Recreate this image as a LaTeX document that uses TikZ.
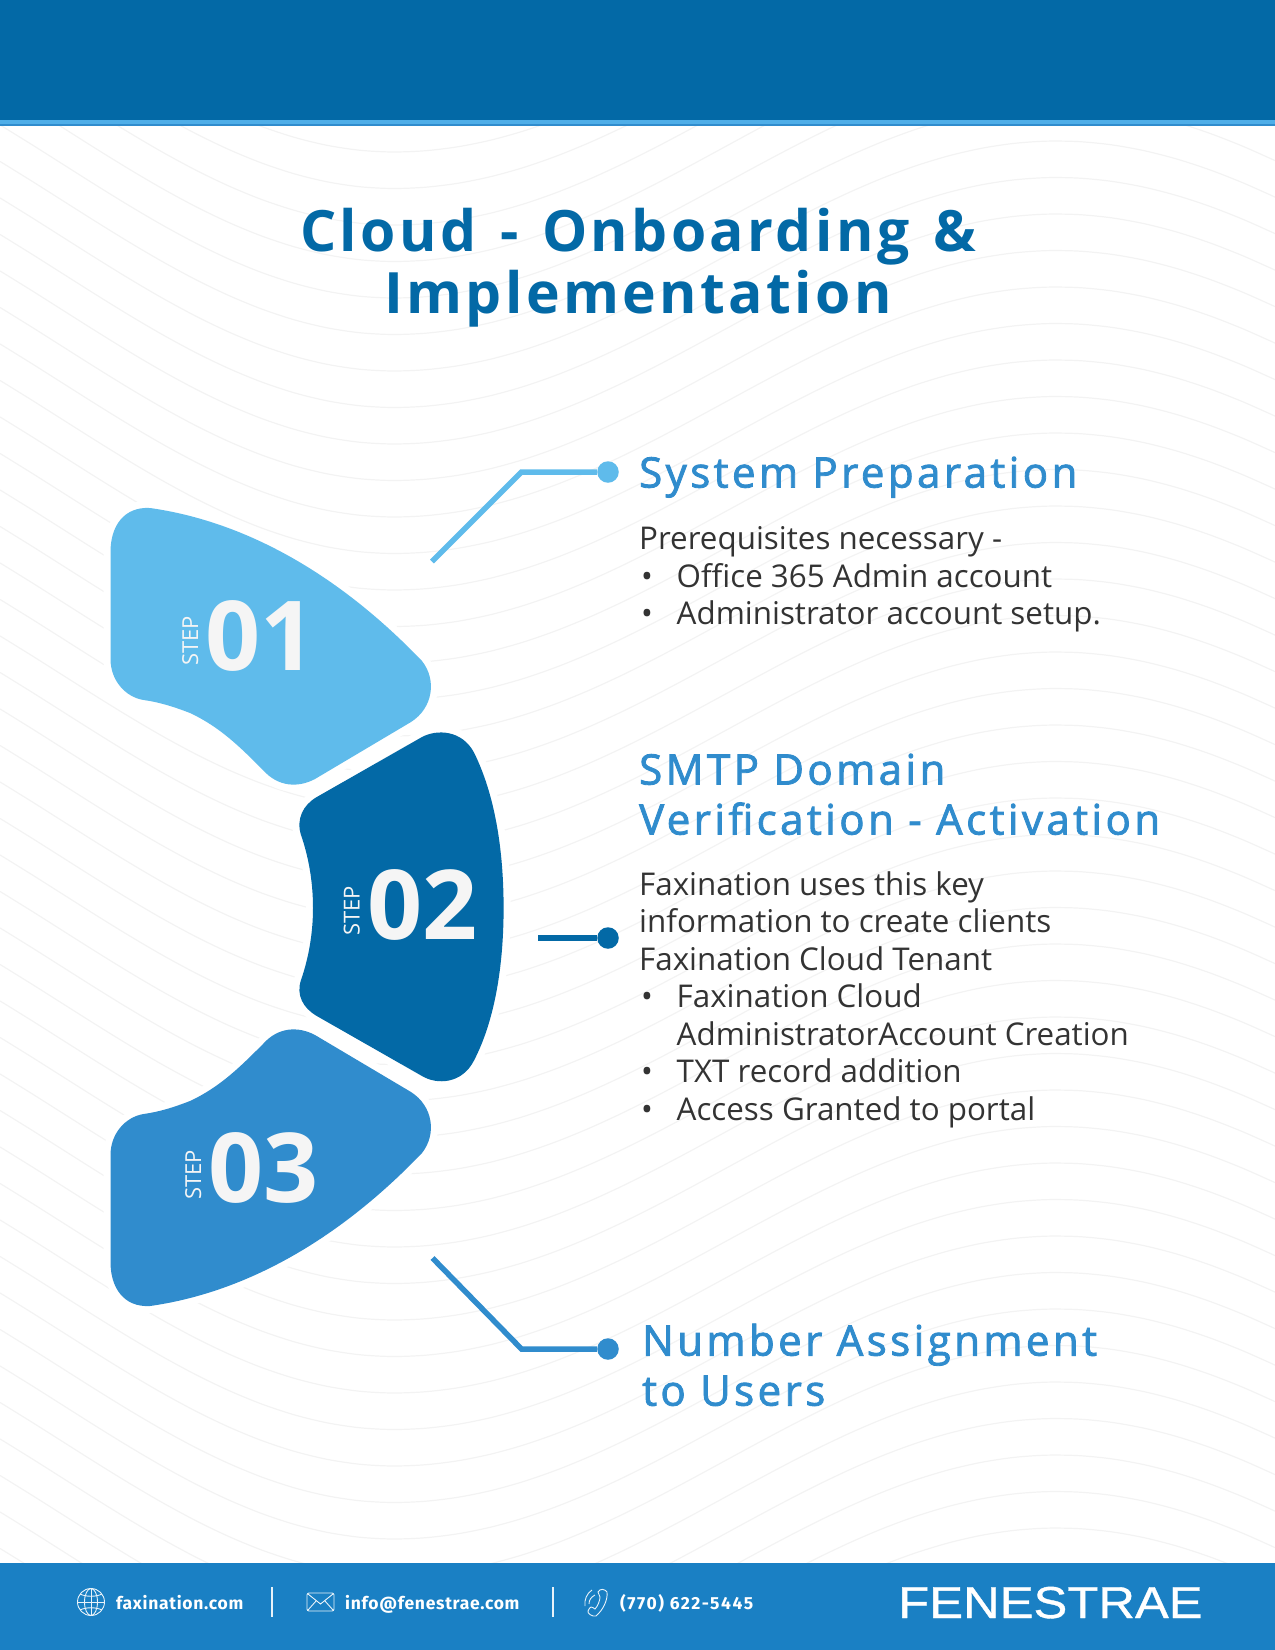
\documentclass[tikz,border=0pt]{standalone}
\usepackage{fontspec}
\setmainfont{Open Sans}
\newfontfamily\titlefont[LetterSpace=6,WordSpace=1.3]{Open Sans}
\newfontfamily\headfont[LetterSpace=8.2,FakeBold=2]{Open Sans}
\newfontfamily\footfont[LetterSpace=4]{Fira Sans}
\newfontfamily\logofont[FakeStretch=1.135,FakeBold=0.8]{Liberation Sans}

\definecolor{bardark}{HTML}{0369A6}
\definecolor{barlight}{HTML}{4FAEE8}
\definecolor{stepone}{HTML}{5FBBEB}
\definecolor{stepthree}{HTML}{308CCD}
\definecolor{footblue}{HTML}{1A80C4}
\definecolor{wavegray}{HTML}{F3F3F3}
\definecolor{bodygray}{HTML}{333333}
\definecolor{numwhite}{HTML}{F5F5F5}

\tikzset{
	leaf/.style={fill=#1,preaction={draw=white,line width=14pt}},
	bignum/.style={anchor=base west,inner sep=0pt,text=numwhite,font=\bfseries\fontsize{96.5}{96.5}\selectfont},
	steptag/.style={anchor=base,rotate=90,inner sep=0pt,text=numwhite,font=\fontsize{22}{22}\selectfont},
	wire/.style={line width=5.5pt,draw=#1},
	wiredot/.style={circle,fill=#1,inner sep=0pt,minimum size=21.5pt},
	bigtitle/.style={anchor=base,inner sep=0pt,text=bardark,font=\titlefont\bfseries\fontsize{57}{61}\selectfont},
	headline/.style={anchor=north west,inner sep=0pt,align=left,text=stepthree,font=\headfont\fontsize{42}{50}\selectfont},
	bodytext/.style={anchor=north west,inner sep=0pt,align=left,text=bodygray,font=\fontsize{31.35}{37.5}\selectfont},
	foottext/.style={anchor=base west,inner sep=0pt,text=white,font=\footfont\bfseries\fontsize{17.5}{17.5}\selectfont},
	footsep/.style={line width=2pt,draw=white!90!footblue},
	footicon/.style={line width=0.9pt,draw=white!90!footblue}
}
\newcommand{\bulletline}[1]{\makebox[37.5pt][l]{\hspace{2pt}•}#1}

\begin{document}
\begin{tikzpicture}[x=1pt,y=-1pt]
	\useasboundingbox (0,0) rectangle (1275,1650);
	% wave lines behind everything
	\begin{scope}
		\clip (0,125) rectangle (1275,1563);
		\foreach \k in {0,...,46} {
			\draw[wavegray,line width=1.2pt] plot[smooth,samples=40,domain=0:1275,variable=\x]
				(\x,{152+\k*36.5-(\x<394?134:115)*(1-cos(0.27149*(\x-394)))});
		}
	\end{scope}
	% top bar
	\fill[bardark] (0,0) rectangle (1275,120);
	\fill[barlight] (0,120) rectangle (1275,123.5);
	\fill[stepthree] (0,123.5) rectangle (1275,126);
	% footer bar
	\fill[footblue] (0,1563) rectangle (1275,1650);
	% title
	\node[bigtitle] (titleone) at (638,251) {Cloud - Onboarding \&};
	\node[bigtitle] (titletwo) at (638,313) {Implementation};
	% step 01
	\path[leaf=stepone] (110.5,552) .. controls (110.5,526) and (124,506.5) .. (150,508)
		.. controls (235,520) and (330,565) .. (422,661)
		.. controls (437,680) and (433,708) .. (411,722) -- (315,779)
		.. controls (298,788) and (278,787) .. (263,770)
		.. controls (240,747) and (220,727) .. (190,713)
		.. controls (172,706) and (158,702) .. (143.6,700)
		.. controls (125,697) and (110.5,680) .. (110.5,659) -- cycle;
	% step 02
	\path[leaf=bardark] (422,737) .. controls (437,729) and (462,730) .. (474,752.5)
		.. controls (495,795) and (503.6,850) .. (503.6,908)
		.. controls (503.6,965) and (495,1020) .. (474,1060.5)
		.. controls (462,1084) and (437,1085) .. (422,1076) -- (316.8,1016)
		.. controls (303,1008) and (296,995) .. (301,980)
		.. controls (308,960) and (313,935) .. (313,908)
		.. controls (313,880) and (308,855) .. (301,835)
		.. controls (296,819) and (303,805) .. (316.8,797) -- cycle;
	% step 03
	\path[leaf=stepthree] (110.5,1262) .. controls (110.5,1288) and (124,1307.5) .. (150,1306)
		.. controls (235,1294) and (330,1249) .. (422,1153)
		.. controls (437,1134) and (433,1106) .. (411,1092) -- (315,1035)
		.. controls (298,1026) and (278,1027) .. (263,1044)
		.. controls (240,1067) and (220,1087) .. (190,1101)
		.. controls (172,1108) and (158,1112) .. (143.6,1114)
		.. controls (125,1117) and (110.5,1134) .. (110.5,1155) -- cycle;
	% step labels
	\node[steptag] (tagone) at (198,641) {STEP};
	\node[bignum] (numone) at (205,670) {01};
	\node[steptag] (tagtwo) at (359.5,911) {STEP};
	\node[bignum] (numtwo) at (367,939) {02};
	\node[steptag] (tagthree) at (201,1175) {STEP};
	\node[bignum] (numthree) at (208,1202) {03};
	% connectors
	\node[wiredot=stepone] (dotone) at (608,472) {};
	\coordinate (endone) at (432,561.5);
	\coordinate (kneeone) at (521.5,472);
	\draw[wire=stepone] (endone) -- (kneeone) -- (dotone);
	\node[wiredot=bardark] (dottwo) at (608,938) {};
	\coordinate (endtwo) at (538,938);
	\draw[wire=bardark] (endtwo) -- (dottwo);
	\node[wiredot=stepthree] (dotthree) at (608,1349) {};
	\coordinate (endthree) at (432.5,1258);
	\coordinate (kneethree) at (521.5,1349);
	\draw[wire=stepthree] (endthree) -- (kneethree) -- (dotthree);
	% right column
	\node[headline] (headone) at (639,456.5) {System Preparation};
	\node[bodytext] (bodyone) at (639,526.4) {Prerequisites necessary -\\
		\bulletline{Office 365 Admin account}\\
		\bulletline{Administrator account setup.}};
	\node[headline] (headtwo) at (639,753.5) {SMTP Domain\\Verification - Activation};
	\node[bodytext] (bodytwo) at (639,871) {Faxination uses this key\\
		information to create clients\\
		Faxination Cloud Tenant\\
		\bulletline{Faxination Cloud}\\
		\hspace*{37.5pt}AdministratorAccount Creation\\
		\bulletline{TXT record addition}\\
		\bulletline{Access Granted to portal}};
	\node[headline] (headthree) at (642,1323.5) {Number Assignment\\to Users};
	% footer items
	\draw[footicon] (91,1602) circle (13.5);
	\draw[footicon] (91,1602) ellipse (6.5 and 13.5);
	\draw[footicon] (91,1588.5) -- (91,1615.5);
	\draw[footicon] (77.5,1602) -- (104.5,1602);
	\draw[footicon] (80,1594) .. controls (86,1597) and (96,1597) .. (102,1594);
	\draw[footicon] (80,1610) .. controls (86,1607) and (96,1607) .. (102,1610);
	\node[foottext] (webtext) at (116,1609) {faxination.com};
	\draw[footsep] (272,1587) -- (272,1617);
	\draw[footicon,rounded corners=2pt] (307,1593) rectangle (334,1611);
	\draw[footicon] (308,1594) -- (320.5,1604) -- (333,1594);
	\draw[footicon] (308,1610) -- (316,1601);
	\draw[footicon] (333,1610) -- (325,1601);
	\node[foottext] (mailtext) at (345,1609) {info@fenestrae.com};
	\draw[footsep] (553,1587) -- (553,1617);
	\draw[footicon] (598,1592) .. controls (600,1588) and (605,1589) .. (607,1592)
		.. controls (608,1600) and (603,1610) .. (596,1616)
		.. controls (592,1617) and (587,1613) .. (588,1611)
		.. controls (589,1609) and (590,1607) .. (591,1607)
		.. controls (592,1607) and (594,1608) .. (595,1609)
		.. controls (598,1606) and (600,1600) .. (600,1597) -- cycle;
	\draw[footicon] (592,1590) .. controls (587,1593) and (584,1600) .. (585,1606);
	\draw[footicon] (595,1595) .. controls (591,1597) and (589,1600) .. (589,1604);
	\node[foottext] (phonetext) at (620,1609) {\addfontfeature{LetterSpace=8.7}(770) 622-5445};
	\node[anchor=base west,inner sep=0pt,text=white,font=\logofont\fontsize{44.7}{44.7}\selectfont] (logotext) at (898,1618) {FENESTRAE};
\end{tikzpicture}
\end{document}
